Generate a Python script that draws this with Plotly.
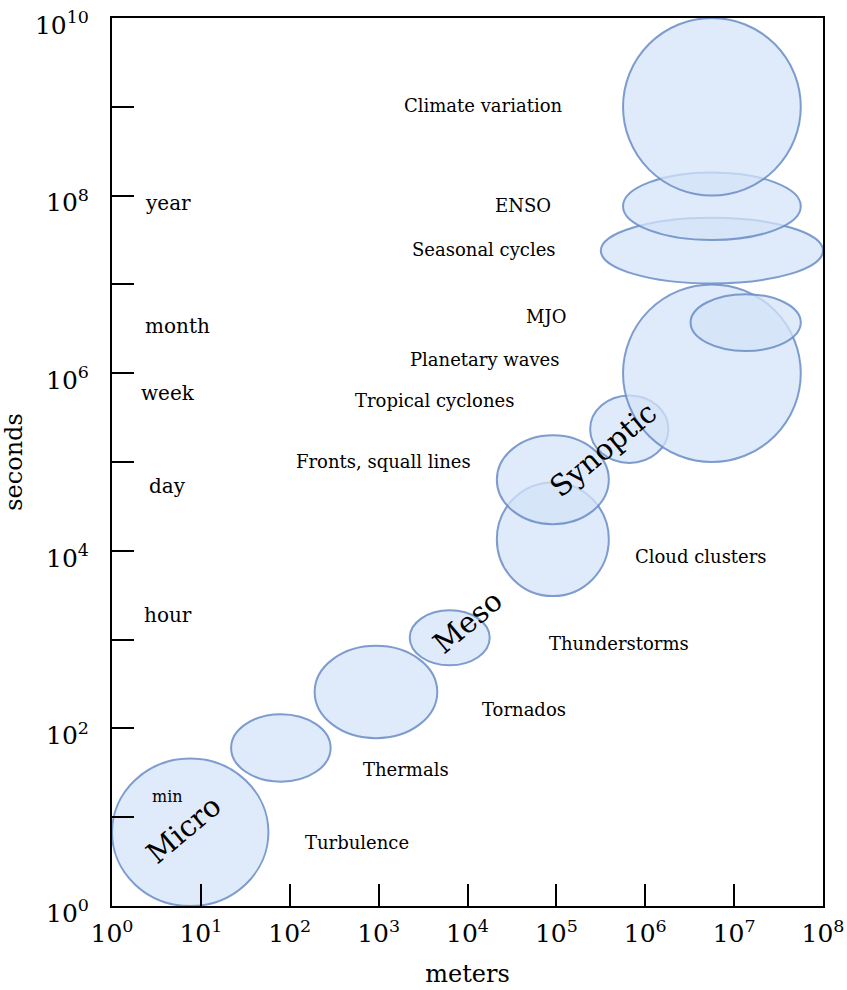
import plotly.graph_objects as go

# Phenomena: centre and half-extent in decades (log10 metres, log10 seconds)
names = ["Turbulence", "Thermals", "Tornados", "Thunderstorms", "Cloud clusters",
         "Fronts, squall lines", "Tropical cyclones", "Planetary waves", "MJO",
         "Seasonal cycles", "ENSO", "Climate variation"]
center_x = [0.88, 1.90, 2.97, 3.80, 4.96, 4.96, 5.82, 6.75, 7.13, 6.75, 6.75, 6.75]
center_y = [0.83, 1.78, 2.41, 3.02, 4.13, 4.80, 5.37, 6.00, 6.57, 7.38, 7.88, 9.00]
half_x = [0.88, 0.56, 0.69, 0.45, 0.63, 0.63, 0.44, 1.00, 0.62, 1.25, 1.00, 1.00]
half_y = [0.83, 0.38, 0.52, 0.31, 0.64, 0.50, 0.38, 1.00, 0.32, 0.37, 0.38, 1.00]

# Label positions (log10 units)
label_x = [2.76, 3.31, 4.64, 5.71, 6.63, 3.05, 3.63, 4.20, 4.88, 4.18, 4.62, 4.18]
label_y = [0.71, 1.54, 2.21, 2.96, 3.94, 5.01, 5.69, 6.15, 6.64, 7.39, 7.89, 9.02]

# Time-scale reference words
time_words = ["year", "month", "week", "day", "hour", "min"]
time_x = [0.63, 0.74, 0.63, 0.63, 0.63, 0.63]
time_y = [7.92, 6.53, 5.78, 4.73, 3.28, 1.23]
time_size = [20, 20, 20, 20, 20, 16]

# Scale regimes
regimes = ["Micro", "Meso", "Synoptic"]
regime_x = [0.81, 4.00, 5.52]
regime_y = [0.87, 3.20, 5.14]

x_exponents = list(range(0, 9))
y_exponents = list(range(0, 11))

FONT = "DejaVu Serif"
FILL = "rgba(212,227,248,0.75)"
EDGE = "rgba(105,140,198,0.85)"

fig = go.Figure()

shapes = []
for cx, cy, hx, hy in zip(center_x, center_y, half_x, half_y):
    shapes.append(dict(
        type="circle", xref="x", yref="y",
        x0=10 ** (cx - hx), x1=10 ** (cx + hx),
        y0=10 ** (cy - hy), y1=10 ** (cy + hy),
        fillcolor=FILL, line=dict(color=EDGE, width=2), layer="below",
    ))

annotations = []
for name, lx, ly in zip(names, label_x, label_y):
    annotations.append(dict(x=lx, y=ly, xref="x", yref="y", text=name,
                            showarrow=False, font=dict(family=FONT, size=18, color="black")))
for w, tx, ty, sz in zip(time_words, time_x, time_y, time_size):
    annotations.append(dict(x=tx, y=ty, xref="x", yref="y", text=w,
                            showarrow=False, font=dict(family=FONT, size=sz, color="black")))
for r, rx, ry in zip(regimes, regime_x, regime_y):
    annotations.append(dict(x=rx, y=ry, xref="x", yref="y", text=r, textangle=-40,
                            showarrow=False, font=dict(family=FONT, size=29, color="black")))

axis_common = dict(
    type="log", showgrid=False, zeroline=False, automargin=False,
    showline=True, linecolor="black", linewidth=2, mirror=True,
    ticks="inside", ticklen=22, tickwidth=2, tickcolor="black",
    tickfont=dict(family=FONT, size=25, color="black"),
    ticklabeloverflow="allow",
)

fig.update_layout(
    width=847, height=990,
    margin=dict(l=112, r=24, t=18, b=84),
    paper_bgcolor="white", plot_bgcolor="white",
    showlegend=False,
    shapes=shapes, annotations=annotations,
    xaxis=dict(
        **axis_common, range=[0, 8],
        tickmode="array",
        tickvals=[10 ** e for e in x_exponents],
        ticktext=[f"10<sup>{e}</sup>" for e in x_exponents],
        title=dict(text="meters", font=dict(family=FONT, size=24, color="black"), standoff=18),
        ticklabelstandoff=4,
    ),
    yaxis=dict(
        **axis_common, range=[0, 10],
        tickmode="array",
        tickvals=[10 ** e for e in y_exponents],
        ticktext=[f"10<sup>{e}</sup>" if e % 2 == 0 else "" for e in y_exponents],
        title=dict(text="seconds", font=dict(family=FONT, size=24, color="black"), standoff=14),
        ticklabelstandoff=16,
        ticklabelshift=7,
    ),
)

fig.write_html("out.html")
